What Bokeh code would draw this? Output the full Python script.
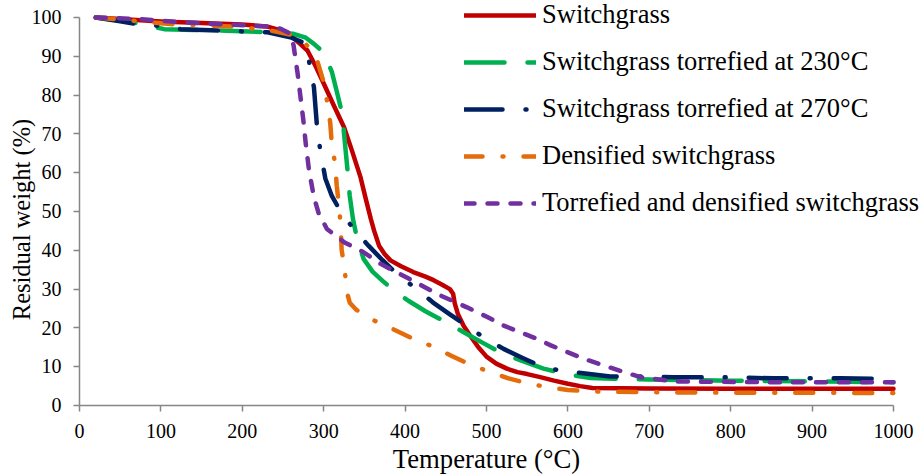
import math
from bokeh.plotting import figure
from bokeh.models import Range1d, Legend, LegendItem, FixedTicker, LabelSet, Label, ColumnDataSource
from bokeh.core.properties import value
from bokeh.embed import file_html
from bokeh.resources import INLINE

# ---------------- data ----------------
sg_T = [20, 50, 100, 150, 200, 230, 255, 271, 280, 290, 300, 312, 325, 335, 345, 352, 358, 362, 368,
        375, 382, 395, 410, 425, 435, 445, 455, 459, 461, 465, 472, 480, 490, 500, 512, 525, 538, 550,
        566, 583, 600, 615, 630, 700, 800, 900, 1000]
sg_W = [100, 99.6, 99.0, 98.6, 98.2, 97.7, 96.2, 93.2, 91.5, 87.5, 83, 77.5, 71.7, 65.5, 59, 53, 48, 45, 41.2,
        39, 37.4, 35.9, 34.4, 33.2, 32.3, 31.2, 30, 28.8, 26.3, 23.5, 20.5, 18.0, 15.0, 12.6, 10.8, 9.5, 8.6, 8.1,
        7.3, 6.4, 5.6, 5.0, 4.5, 4.4, 4.3, 4.3, 4.3]

t230_T = [20, 50, 75, 104, 140, 181, 230, 263, 278, 288, 300, 310, 316, 323, 325, 330, 332, 336, 341,
          349, 360, 372, 384, 404, 425, 450, 472, 495, 517, 542, 570, 600, 628, 656, 700, 800, 900, 1000]
t230_W = [100, 99.2, 98.4, 97, 96.8, 96.6, 96.2, 95.8, 94.8, 93.2, 91, 86, 81, 75, 70, 59, 54, 48, 43,
          37.8, 34.5, 32.2, 30, 27, 24.3, 21.5, 18.9, 16.2, 13.7, 11.6, 9.5, 8.0, 7.1, 6.9, 6.7, 6.4, 6.2, 6.0]

t270_T = [20, 50, 71, 95, 124, 173, 231, 259, 272, 278, 283, 288, 292, 296, 302, 310, 320, 337, 355, 372,
          390, 413, 434, 455, 476, 499, 521, 545, 566, 590, 624, 652, 690, 730, 783, 853, 935, 1000]
t270_W = [100, 99.0, 98.3, 97.9, 97.0, 96.6, 96.2, 94.9, 93.8, 93.2, 87.6, 82, 71.3, 65.5, 58.5, 54, 50.3, 45.4, 41.2, 37.5,
          33.9, 30.2, 26.6, 23.5, 20.5, 17.2, 14.6, 12.2, 10.2, 9.0, 8.2, 7.5, 7.5, 7.3, 7.3, 7.0, 7.0, 6.8]

den_T = [20, 42, 112, 185, 231, 263, 276, 285, 292, 300, 304, 308, 310, 314, 316, 319, 321, 322, 326, 328,
         332, 340, 350, 362, 386, 409, 433, 456, 479, 505, 527, 552, 583, 600, 630, 705, 800, 900, 1000]
den_W = [100, 99.6, 98.3, 97.7, 96.8, 95.4, 93.6, 91.5, 88.9, 83.3, 78.6, 72.9, 67.4, 62.3, 56.7, 51.1, 46, 40.2, 34.8, 29.6,
         26.5, 24.7, 23.2, 21.9, 19.6, 17.3, 15.3, 12.9, 10.6, 8.6, 7.0, 5.6, 4.5, 4.0, 3.6, 3.4, 3.3, 3.3, 3.2]

td_T = [20, 75, 124, 181, 231, 247, 259, 263, 265, 268, 271.5, 275, 278, 282, 288, 294, 304, 325, 349, 370,
        409, 443, 476, 501, 521, 546, 562, 579, 620, 656, 689, 730, 853, 1000]
td_W = [100, 99.6, 98.8, 98.2, 97.7, 97.1, 95.8, 92.8, 89.8, 85.5, 79.5, 73.5, 67.4, 60.6, 53.7, 49.4, 45.5, 42.1, 39.5, 36.5,
        32.2, 28.4, 25.3, 22.8, 20.6, 18.5, 17.2, 15.5, 12.0, 9.5, 7.3, 6.2, 6.0, 6.0]

series_names = ["Switchgrass", "Switchgrass torrefied at 230°C", "Switchgrass torrefied at 270°C",
                "Densified switchgrass", "Torrefied and densified switchgrass"]
x_ticks = list(range(0, 1001, 100))
y_ticks = list(range(0, 101, 10))
x_tick_labels = [str(v) for v in x_ticks]
y_tick_labels = [str(v) for v in y_ticks]
x_title = "Temperature (°C)"
y_title = "Residual weight (%)"
x_limits = (0, 1000)
y_limits = (0, 100)

FONT = "Liberation Serif"

# The frame covers the whole canvas; the axes are placed at data 0 with fixed_location
# and bounded to the data limits, so that 0..1000 spans px 79..893 and 0..100 spans px 405..17.
W, H = 923, 476
X0_PX, X1_PX = 79, 893
Y0_PX, Y1_PX = 405, 17
sx = (X1_PX - X0_PX) / (x_limits[1] - x_limits[0])
sy = (Y0_PX - Y1_PX) / (y_limits[1] - y_limits[0])
x_start = x_limits[0] - X0_PX / sx
x_end = x_limits[1] + (W - X1_PX) / sx
y_start = y_limits[0] - (H - Y0_PX) / sy
y_end = y_limits[1] + Y1_PX / sy

p = figure(width=W, height=H, output_backend="svg", toolbar_location=None,
           x_range=Range1d(x_start, x_end), y_range=Range1d(y_start, y_end),
           min_border=0, min_border_left=0, min_border_right=0, min_border_top=0, min_border_bottom=0)
p.outline_line_color = None
p.grid.visible = False
p.background_fill_color = "white"
p.border_fill_color = "white"

p.axis.axis_line_color = "#868686"
p.axis.axis_line_width = 1.5
p.axis.major_tick_line_color = "#868686"
p.axis.major_tick_line_width = 1.5
p.axis.major_tick_out = 6
p.axis.major_tick_in = 0
p.axis.minor_tick_line_color = None
p.axis.major_label_text_alpha = 0
p.axis.major_label_text_font_size = "1px"
p.xaxis[0].fixed_location = 0
p.yaxis[0].fixed_location = 0
p.xaxis[0].bounds = x_limits
p.yaxis[0].bounds = y_limits
p.xaxis[0].ticker = FixedTicker(ticks=x_ticks)
p.yaxis[0].ticker = FixedTicker(ticks=y_ticks)

# tick labels and axis titles in a serif face
xlab_src = ColumnDataSource(dict(x=x_ticks, y=[0] * len(x_ticks), text=x_tick_labels))
p.add_layout(LabelSet(x="x", y="y", text="text", source=xlab_src, y_offset=-32,
                      text_align="center", text_baseline="alphabetic", text_font=value(FONT),
                      text_font_size=value("20px"), text_color="black"))
ylab_src = ColumnDataSource(dict(x=[0] * len(y_ticks), y=y_ticks, text=y_tick_labels))
p.add_layout(LabelSet(x="x", y="y", text="text", source=ylab_src, x_offset=-18, y_offset=-6.6,
                      text_align="right", text_baseline="alphabetic", text_font=value(FONT),
                      text_font_size=value("20px"), text_color="black"))
p.add_layout(Label(x=(x_limits[0] + x_limits[1]) / 2, y=0, y_offset=-53, text=x_title,
                   text_align="center", text_baseline="alphabetic", text_font=FONT,
                   text_font_size="26.7px", text_color="black"))
p.add_layout(Label(x=0, y=(y_limits[0] + y_limits[1]) / 2, x_offset=-58, y_offset=-8, text=y_title,
                   angle=math.pi / 2, text_align="center", text_baseline="alphabetic", text_font=FONT,
                   text_font_size="24.5px", text_color="black"))

LW = 4.5
r_sg = p.line(sg_T, sg_W, line_color="#C00000", line_width=LW, line_cap="round", line_join="round")
r_230 = p.line(t230_T, t230_W, line_color="#00B050", line_width=LW, line_cap="round", line_join="round",
               line_dash="40 23")
r_270 = p.line(t270_T, t270_W, line_color="#002060", line_width=LW, line_cap="round", line_join="round",
               line_dash="38 23 1 23")
r_den = p.line(den_T, den_W, line_color="#E46C0A", line_width=LW, line_cap="round", line_join="round",
               line_dash="18 20 1 20")
r_td = p.line(td_T, td_W, line_color="#7030A0", line_width=LW, line_cap="round", line_join="round",
              line_dash="10 13")

items = [LegendItem(label=n, renderers=[r]) for n, r in
         zip(series_names, [r_sg, r_230, r_270, r_den, r_td])]
legend = Legend(items=items, location=(464, 258), glyph_width=72, glyph_height=20,
                label_standoff=6, spacing=16, padding=0, margin=0,
                border_line_color=None, background_fill_alpha=0,
                label_text_font=FONT, label_text_font_size="26.5px", label_text_color="black")
p.add_layout(legend)

open("out.html", "w").write(file_html(p, INLINE))
